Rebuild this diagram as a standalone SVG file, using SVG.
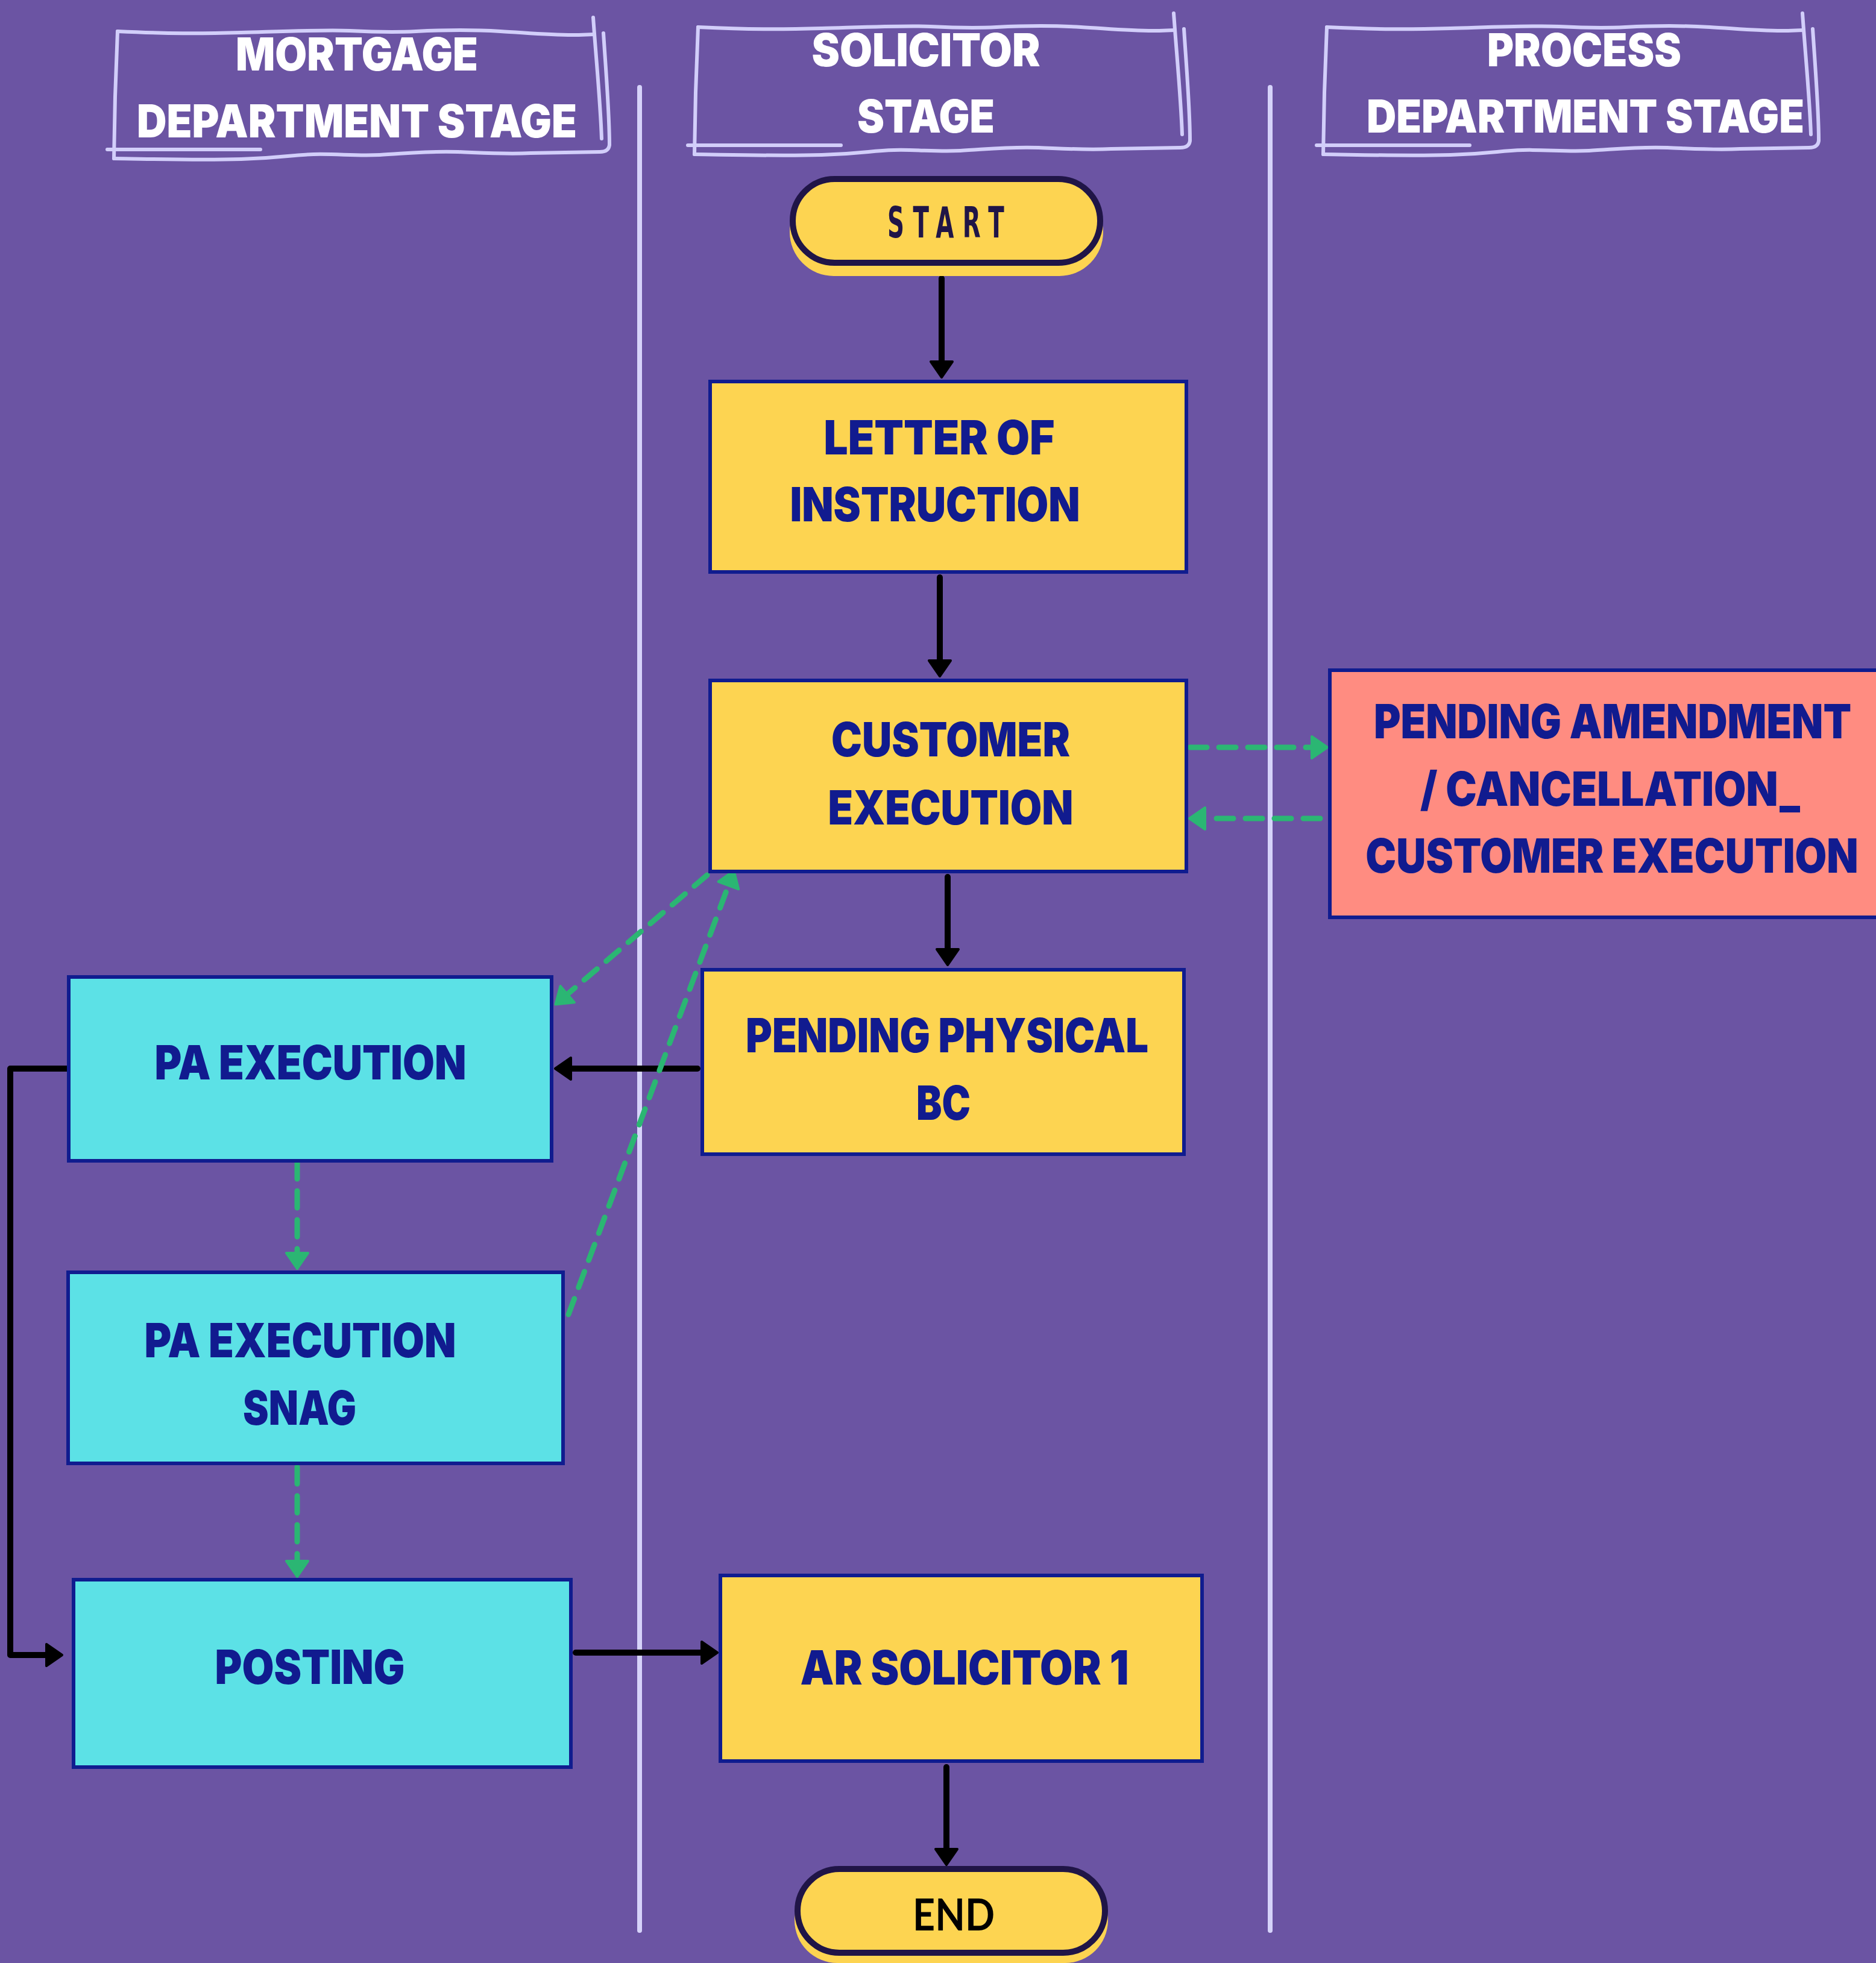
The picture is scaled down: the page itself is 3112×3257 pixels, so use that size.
<svg xmlns="http://www.w3.org/2000/svg" width="3112" height="3257" viewBox="0 0 3112 3257">
<style>
.sk{fill:none;stroke:#D2CEFA;stroke-width:6;stroke-linecap:round;stroke-linejoin:round}
.lane{stroke:#D6D3FA;stroke-width:8;stroke-linecap:round}
.hdr{font-family:Inter,Lato,"Open Sans","Liberation Sans",sans-serif;font-weight:900;font-size:76px;fill:#FFFFFF;text-anchor:middle}
.box{stroke:#101C8F;stroke-width:6}
.yel{fill:#FDD451}
.cya{fill:#5CE1E6}
.pnk{fill:#FF8C81}
.edge{fill:none;stroke:#101C8F;stroke-width:6}
.lbl{font-family:Inter,Lato,"Open Sans","Liberation Sans",sans-serif;font-weight:900;font-size:79px;fill:#111B8F;text-anchor:middle}
.pill{fill:#FDD451;stroke:#201547;stroke-width:10}
.shadow{fill:#FDD451}
.conn{fill:none;stroke:#000000;stroke-width:10;stroke-linecap:round;stroke-linejoin:round}
.dash{fill:none;stroke:#2BB673;stroke-width:9;stroke-linecap:round;stroke-dasharray:28 20}
</style>
<defs>
<marker id="ab" viewBox="-5 -25 40 50" markerWidth="40" markerHeight="50" refX="0" refY="0" orient="auto" markerUnits="userSpaceOnUse">
<path d="M1,-18 L27,0 L1,18 Z" fill="#000000" stroke="#000000" stroke-width="4" stroke-linejoin="round"/>
</marker>
<marker id="ag" viewBox="-5 -25 40 50" markerWidth="40" markerHeight="50" refX="0" refY="0" orient="auto" markerUnits="userSpaceOnUse">
<path d="M1,-18 L27,0 L1,18 Z" fill="#2BB673" stroke="#2BB673" stroke-width="4" stroke-linejoin="round"/>
</marker>
<g id="sketch">
<path class="sk" d="M195,52 C280,56 330,56 400,54 S540,49 580,51 S650,54 690,52 S780,49 830,52 S920,59 960,58 L985,57"/>
<path class="sk" d="M195,52 L191,160 L189,263"/>
<path class="sk" d="M189,263 C260,264 330,266 400,264 S480,257 520,256 S590,259 630,257 S710,250 760,252 S840,256 880,254 L995,252 Q1010,252 1011,240"/>
<path class="sk" d="M1001,55 C1006,130 1011,190 1011,240"/>
<path class="sk" d="M984,29 C989,100 996,170 998,230"/>
<path class="sk" d="M178,248 L432,248"/>
</g>
</defs>
<rect x="0" y="0" width="3112" height="3257" fill="#6B54A3"/>
<g id="lanes">
<line class="lane" x1="1061" y1="145" x2="1061" y2="3203"/>
<line class="lane" x1="2107" y1="145" x2="2107" y2="3203"/>
</g>
<g id="header-mortgage">
<use href="#sketch"/>
<text class="hdr" x="592" y="117" textLength="402" lengthAdjust="spacingAndGlyphs">MORTGAGE</text>
<text class="hdr" x="592" y="228" textLength="730" lengthAdjust="spacingAndGlyphs">DEPARTMENT STAGE</text>
</g>
<g id="header-solicitor">
<use href="#sketch" transform="translate(963,-7)"/>
<text class="hdr" x="1536" y="110" textLength="379" lengthAdjust="spacingAndGlyphs">SOLICITOR</text>
<text class="hdr" x="1536" y="220" textLength="228" lengthAdjust="spacingAndGlyphs">STAGE</text>
</g>
<g id="header-process">
<use href="#sketch" transform="translate(2006,-7)"/>
<text class="hdr" x="2628" y="110" textLength="322" lengthAdjust="spacingAndGlyphs">PROCESS</text>
<text class="hdr" x="2630" y="220" textLength="726" lengthAdjust="spacingAndGlyphs">DEPARTMENT STAGE</text>
</g>
<g id="connectors">
<path class="conn" d="M1562,462 V599" marker-end="url(#ab)"/>
<path class="conn" d="M1559,958 V1095" marker-end="url(#ab)"/>
<path class="conn" d="M1572,1455 V1574" marker-end="url(#ab)"/>
<path class="conn" d="M1157,1773 H948" marker-end="url(#ab)"/>
<path class="conn" d="M111,1773 H17 V2746 H76" marker-end="url(#ab)"/>
<path class="conn" d="M955,2742 H1163" marker-end="url(#ab)"/>
<path class="conn" d="M1570,2932 V3067" marker-end="url(#ab)"/>
<path class="dash" d="M1974,1240 H2175" marker-end="url(#ag)"/>
<path class="dash" d="M2190,1358 H2000" marker-end="url(#ag)"/>
<path class="dash" d="M1173,1452 L942,1649" marker-end="url(#ag)"/>
<path class="dash" d="M943,2181 L1208,1470" marker-end="url(#ag)"/>
<path class="dash" d="M493,1928 V2078" marker-end="url(#ag)"/>
<path class="dash" d="M493,2434 V2589" marker-end="url(#ag)"/>
</g>
<g id="node-start">
<rect class="shadow" x="1310" y="312" width="520" height="146" rx="73"/>
<rect class="pill" x="1315" y="297" width="510" height="139" rx="69.5"/>
<text transform="translate(1472,394) scale(0.6,1)" textLength="323" lengthAdjust="spacing" font-family="'DejaVu Sans Condensed','DejaVu Sans',sans-serif" font-weight="bold" font-size="72" fill="#201547">START</text>
</g>
<g id="node-letter">
<rect class="box yel" x="1178" y="633" width="790" height="316"/>
<text class="lbl" x="1558" y="754" textLength="383" lengthAdjust="spacingAndGlyphs">LETTER OF</text>
<text class="lbl" x="1551" y="865" textLength="481" lengthAdjust="spacingAndGlyphs">INSTRUCTION</text>
</g>
<g id="node-customer">
<rect class="box yel" x="1178" y="1129" width="790" height="317"/>
<text class="lbl" x="1577" y="1255" textLength="396" lengthAdjust="spacingAndGlyphs">CUSTOMER</text>
<text class="lbl" x="1577" y="1368" textLength="407" lengthAdjust="spacingAndGlyphs">EXECUTION</text>
</g>
<g id="node-pending-amendment">
<rect class="pnk" x="2206" y="1112" width="906" height="410"/>
<path class="edge" d="M3112,1112 H2206 V1522 H3112"/>
<text class="lbl" transform="translate(2675,1225) scale(0.86,1)" x="0" y="0" textLength="921" lengthAdjust="spacingAndGlyphs">PENDING AMENDMENT</text>
<text class="lbl" x="2671" y="1337" textLength="630" lengthAdjust="spacingAndGlyphs">/ CANCELLATION_</text>
<text class="lbl" transform="translate(2674,1448) scale(0.84,1)" x="0" y="0" textLength="973" lengthAdjust="spacingAndGlyphs">CUSTOMER EXECUTION</text>
</g>
<g id="node-pending-physical">
<rect class="box yel" x="1165" y="1609" width="799" height="306"/>
<text class="lbl" x="1571" y="1746" textLength="668" lengthAdjust="spacingAndGlyphs">PENDING PHYSICAL</text>
<text class="lbl" x="1565" y="1858" textLength="90" lengthAdjust="spacingAndGlyphs">BC</text>
</g>
<g id="node-pa-execution">
<rect class="box cya" x="114" y="1621" width="801" height="305"/>
<text class="lbl" x="515" y="1791" textLength="517" lengthAdjust="spacingAndGlyphs">PA EXECUTION</text>
</g>
<g id="node-pa-snag">
<rect class="box cya" x="113" y="2111" width="821" height="317"/>
<text class="lbl" x="498" y="2252" textLength="517" lengthAdjust="spacingAndGlyphs">PA EXECUTION</text>
<text class="lbl" x="497" y="2364" textLength="188" lengthAdjust="spacingAndGlyphs">SNAG</text>
</g>
<g id="node-posting">
<rect class="box cya" x="122" y="2621" width="825" height="311"/>
<text class="lbl" x="514" y="2794" textLength="315" lengthAdjust="spacingAndGlyphs">POSTING</text>
</g>
<g id="node-ar-solicitor">
<rect class="box yel" x="1195" y="2614" width="799" height="308"/>
<text class="lbl" x="1600" y="2795" textLength="545" lengthAdjust="spacingAndGlyphs">AR SOLICITOR 1</text>
</g>
<g id="node-end">
<rect class="shadow" x="1318" y="3115" width="520" height="142" rx="71"/>
<rect class="pill" x="1323" y="3101" width="510" height="139" rx="69.5"/>
<text x="1582" y="3203" text-anchor="middle" textLength="136" lengthAdjust="spacingAndGlyphs" font-family="Lato,'Liberation Sans',sans-serif" font-weight="700" font-size="72" fill="#000000">END</text>
</g>
</svg>
